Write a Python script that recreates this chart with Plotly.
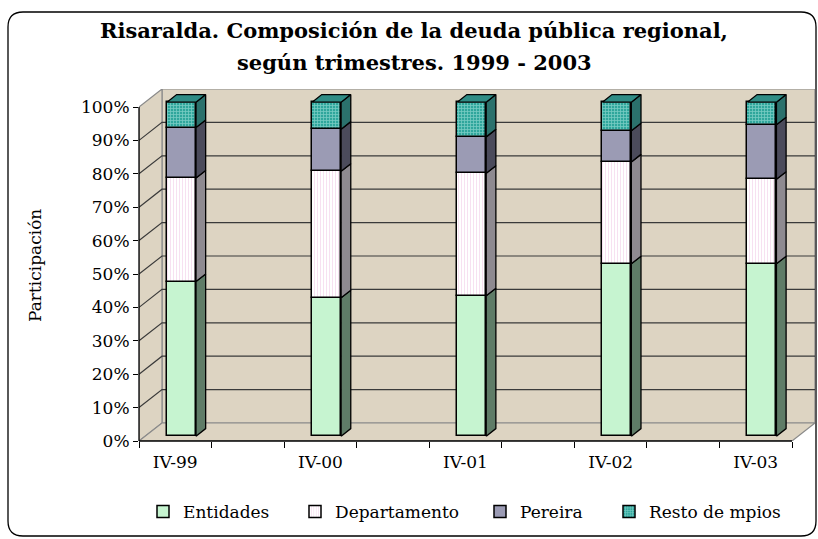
import plotly.graph_objects as go

# ---------------- data ----------------
categories = ["IV-99", "IV-00", "IV-01", "IV-02", "IV-03"]
slot_index = [0, 2, 4, 6, 8]          # category slot (9 slots on the axis, every other one used)
n_slots = 9
entidades = [46.3, 41.4, 42.0, 51.6, 51.6]
departamento = [31.0, 37.9, 36.7, 30.5, 25.3]
pereira = [15.1, 12.6, 10.9, 9.3, 16.3]
resto = [7.6, 8.1, 10.4, 8.6, 6.8]
series_names = ["Entidades", "Departamento", "Pereira", "Resto de mpios"]
ytick_vals = [0, 10, 20, 30, 40, 50, 60, 70, 80, 90, 100]

# ---------------- geometry / style ----------------
W, H = 818, 539
L, R, T, B = 139, 3, 89, 98
plot_w = W - L - R
plot_h = H - T - B
slot_px = 653 / n_slots
ypx = 3.34
xmax = plot_w / slot_px
ymax = plot_h / ypx
dxu = 23 / slot_px     # depth offset (x) in data units
dyu = 18 / ypx         # depth offset (y) in data units
bw = 0.40
d0, d1 = 0.27, 0.69

FONT = "DejaVu Serif"
WALL = "#ddd4c2"
EDGE = "#8a8a8a"
GRID = "#3a3a3a"

front_col = ["#c6f4d0", "#ffffff", "#9b9bb4", "#3fb3aa"]
side_col = ["#5f7c67", "#8e8a90", "#4b4b5b", "#2b716c"]
top_col = "#2f8c85"
legend_px = [143, 295, 480, 609]   # left pixel of each legend entry

vals = [entidades, departamento, pereira, resto]


def px2x(p):
    return (p - L) / plot_w


def py2y(p):
    return (H - B - p) / plot_h


fig = go.Figure()

# base of each segment
bases = []
cum = [0.0] * len(categories)
for s in vals:
    bases.append(list(cum))
    cum = [c + v for c, v in zip(cum, s)]

xc = [s + 0.5 + d0 * dxu for s in slot_index]

legend_ids = ["legend", "legend2", "legend3", "legend4"]

# front faces
for k, (name, s) in enumerate(zip(series_names, vals)):
    marker = dict(color=front_col[k], line=dict(color="black", width=1.5))
    if name == "Departamento":
        marker["pattern"] = dict(shape="|", fgcolor="#f0c4e4", bgcolor="#ffffff", size=3, solidity=0.35)
    if name == "Resto de mpios":
        marker["pattern"] = dict(shape="+", fgcolor="#bff0ea", bgcolor="#2fa69c", size=3, solidity=0.45)
    fig.add_trace(go.Bar(
        x=xc, y=s, base=[b + d0 * dyu for b in bases[k]], width=bw,
        name=name, marker=marker, hoverinfo="skip", legend=legend_ids[k],
    ))

# side faces (3D look) computed from data
ddx = (d1 - d0) * dxu
for k, s in enumerate(vals):
    px, py = [], []
    for i in range(len(categories)):
        y0 = bases[k][i]
        y1 = y0 + s[i]
        xr = xc[i] + bw / 2
        px += [xr, xr + ddx, xr + ddx, xr, xr, None]
        py += [y0 + d0 * dyu, y0 + d1 * dyu, y1 + d1 * dyu, y1 + d0 * dyu, y0 + d0 * dyu, None]
    fig.add_trace(go.Scatter(x=px, y=py, mode="lines", fill="toself", fillcolor=side_col[k],
                             line=dict(color="black", width=1.3), showlegend=False, hoverinfo="skip"))

# top faces
px, py = [], []
for i in range(len(categories)):
    top = cum[i]
    xl, xr = xc[i] - bw / 2, xc[i] + bw / 2
    px += [xl, xr, xr + ddx, xl + ddx, xl, None]
    py += [top + d0 * dyu, top + d0 * dyu, top + d1 * dyu, top + d1 * dyu, top + d0 * dyu, None]
fig.add_trace(go.Scatter(x=px, y=py, mode="lines", fill="toself", fillcolor=top_col,
                         line=dict(color="black", width=1.3), showlegend=False, hoverinfo="skip"))

shapes = []
X9 = n_slots
# walls
shapes.append(dict(type="path", xref="x", yref="y", layer="below",
                   path=f"M {dxu},{dyu} L {X9 + dxu},{dyu} L {X9 + dxu},{100 + dyu} L {dxu},{100 + dyu} Z",
                   fillcolor=WALL, line=dict(color=EDGE, width=1.2)))
shapes.append(dict(type="path", xref="x", yref="y", layer="below",
                   path=f"M 0,0 L 0,100 L {dxu},{100 + dyu} L {dxu},{dyu} Z",
                   fillcolor=WALL, line=dict(color=EDGE, width=1.2)))
shapes.append(dict(type="path", xref="x", yref="y", layer="below",
                   path=f"M 0,0 L {X9},0 L {X9 + dxu},{dyu} L {dxu},{dyu} Z",
                   fillcolor=WALL, line=dict(color=EDGE, width=1.2)))
# gridlines on left + back wall
for v in ytick_vals[1:-1]:
    shapes.append(dict(type="path", xref="x", yref="y", layer="below",
                       path=f"M 0,{v} L {dxu},{v + dyu} L {X9 + dxu},{v + dyu}",
                       line=dict(color=GRID, width=1.2)))
# axis lines
shapes.append(dict(type="line", xref="paper", yref="y", x0=0, x1=0, y0=0, y1=100,
                   line=dict(color="black", width=1.3)))
shapes.append(dict(type="line", xref="x", yref="paper", x0=0, x1=X9, y0=0, y1=0,
                   line=dict(color="black", width=1.3)))
# chart border (rounded)
bx0, bx1, by0, by1 = px2x(8), px2x(816), py2y(536), py2y(12)
rx, ry = 15 / plot_w, 15 / plot_h
shapes.append(dict(type="path", xref="paper", yref="paper",
                   path=(f"M {bx0 + rx},{by1} L {bx1 - rx},{by1} Q {bx1},{by1} {bx1},{by1 - ry} "
                         f"L {bx1},{by0 + ry} Q {bx1},{by0} {bx1 - rx},{by0} "
                         f"L {bx0 + rx},{by0} Q {bx0},{by0} {bx0},{by0 + ry} "
                         f"L {bx0},{by1 - ry} Q {bx0},{by1} {bx0 + rx},{by1} Z"),
                   line=dict(color="black", width=1.3)))

annotations = [
    dict(text="<b>Risaralda. Composición de la deuda pública regional,</b>", xref="paper", yref="paper",
         x=px2x(414), y=py2y(31), showarrow=False, xanchor="center", yanchor="middle",
         font=dict(family=FONT, size=21, color="black")),
    dict(text="<b>según trimestres. 1999 - 2003</b>", xref="paper", yref="paper",
         x=px2x(414), y=py2y(63), showarrow=False, xanchor="center", yanchor="middle",
         font=dict(family=FONT, size=21, color="black")),
    dict(text="Participación", xref="paper", yref="paper", textangle=-90,
         x=px2x(35), y=py2y(266), showarrow=False, xanchor="center", yanchor="middle",
         font=dict(family=FONT, size=17, color="black")),
]

legends = {}
for k, lid in enumerate(legend_ids):
    legends[lid] = dict(orientation="h", x=px2x(legend_px[k]), y=py2y(512), xanchor="left", yanchor="middle",
                        font=dict(family=FONT, size=17, color="black"), itemwidth=30,
                        bgcolor="rgba(0,0,0,0)")

fig.update_layout(
    width=W, height=H,
    margin=dict(l=L, r=R, t=T, b=B),
    paper_bgcolor="white", plot_bgcolor="white",
    barmode="overlay", bargap=0,
    shapes=shapes, annotations=annotations,
    font=dict(family=FONT, color="black"),
    showlegend=True,
    xaxis=dict(range=[0, xmax], showgrid=False, zeroline=False, showline=False,
               tickmode="array", tickvals=[s + 0.5 for s in slot_index], ticktext=categories,
               ticks="", ticklabelstandoff=9,
               tickfont=dict(family=FONT, size=17, color="black"),
               minor=dict(tickmode="array", tickvals=list(range(n_slots + 1)), ticks="outside",
                          ticklen=6, tickcolor="black", tickwidth=1.2, showgrid=False),
               fixedrange=True),
    yaxis=dict(range=[0, ymax], showgrid=False, zeroline=False, showline=False,
               tickmode="array", tickvals=ytick_vals, ticktext=[f"{v}%" for v in ytick_vals],
               ticks="outside", ticklen=5, tickcolor="black", tickwidth=1.2,
               tickfont=dict(family=FONT, size=17, color="black"), fixedrange=True),
    **legends,
)

fig.write_html("out.html", config={"displayModeBar": False},
               post_script="document.body.style.margin='0px';")
